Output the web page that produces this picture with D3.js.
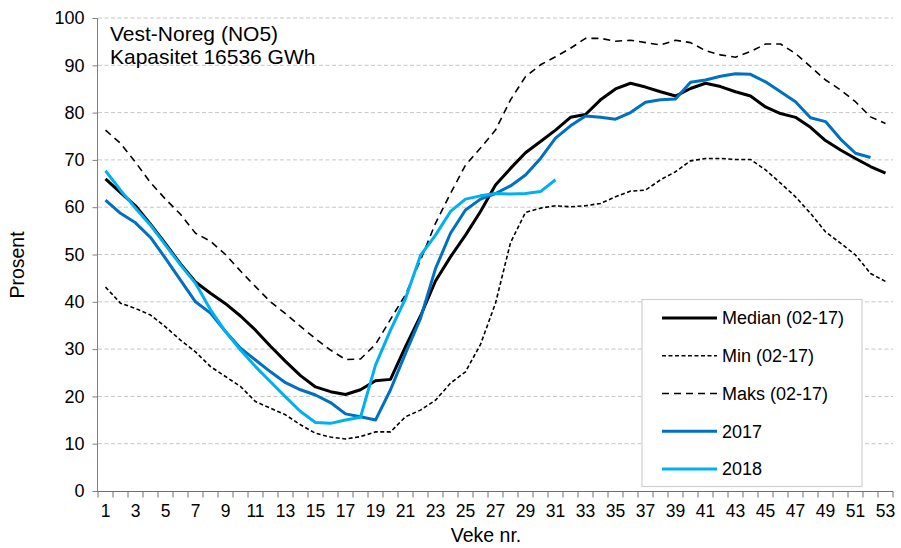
<!DOCTYPE html>
<html>
<head>
<meta charset="utf-8">
<script src="https://cdn.jsdelivr.net/npm/d3@7"></script>
<style>
  html, body { margin: 0; padding: 0; background: #fff; }
  svg { display: block; font-family: "Liberation Sans", Arial, sans-serif; }
</style>
</head>
<body>
<svg id="chart" width="901" height="548"></svg>
<script>
const weeks = d3.range(1, 54);
const yTicks = [0, 10, 20, 30, 40, 50, 60, 70, 80, 90, 100];
const xTickLabels = weeks.filter(w => w % 2 === 1);

const median = [66.0, 63.1, 60.3, 56.4, 52.3, 48.0, 44.2, 41.8, 39.6, 37.0,
  34.0, 30.6, 27.4, 24.4, 22.0, 21.0, 20.4, 21.4, 23.3, 23.6,
  30.5, 37.0, 44.4, 49.5, 54.1, 59.1, 64.7, 68.2, 71.5, 73.9,
  76.3, 79.0, 79.6, 82.7, 85.0, 86.2, 85.4, 84.4, 83.5, 85.1,
  86.2, 85.5, 84.4, 83.5, 81.2, 79.8, 79.0, 76.9, 74.1, 72.1,
  70.3, 68.6, 67.2];
const minV = [43.1, 39.7, 38.6, 37.2, 34.7, 31.9, 29.4, 26.3, 24.2, 22.1,
  18.9, 17.5, 16.1, 14.0, 12.2, 11.4, 11.0, 11.5, 12.5, 12.5,
  15.7, 17.1, 19.2, 22.8, 25.2, 31.0, 39.7, 52.5, 58.9, 59.8,
  60.3, 60.1, 60.3, 60.8, 62.2, 63.4, 63.6, 65.8, 67.5, 69.8,
  70.3, 70.3, 70.1, 70.1, 67.9, 65.1, 62.2, 58.7, 54.8, 52.4,
  49.9, 46.0, 44.3];
const maxV = [76.3, 73.5, 69.5, 65.2, 61.7, 58.5, 54.5, 52.8, 50.0, 46.5,
  43.2, 40.0, 37.5, 34.8, 32.2, 29.8, 27.8, 27.9, 31.0, 36.3,
  41.5, 48.8, 56.6, 62.9, 68.9, 72.5, 76.3, 82.7, 87.6, 90.1,
  91.8, 93.6, 95.7, 95.7, 95.1, 95.3, 94.8, 94.3, 95.3, 94.8,
  93.1, 92.2, 91.7, 92.9, 94.5, 94.5, 92.5, 89.7, 86.9, 84.8,
  82.3, 79.1, 77.7];
const y2017 = [61.5, 58.7, 56.7, 53.6, 49.2, 44.6, 40.0, 37.6, 33.7, 30.2,
  27.7, 25.2, 22.9, 21.4, 20.3, 18.7, 16.3, 15.7, 15.0, 21.4,
  29.1, 36.5, 47.0, 54.5, 59.4, 61.7, 62.9, 64.5, 66.8, 70.3,
  74.6, 77.2, 79.3, 79.0, 78.6, 80.0, 82.2, 82.7, 82.9, 86.4,
  86.9, 87.7, 88.2, 88.1, 86.5, 84.4, 82.3, 78.9, 78.1, 74.4,
  71.4, 70.5];
const y2018 = [67.7, 63.6, 59.8, 56.2, 52.0, 47.8, 43.9, 38.3, 33.7, 29.8,
  26.3, 23.1, 19.9, 16.8, 14.5, 14.3, 15.0, 15.6, 26.6, 34.0,
  40.7, 49.8, 54.1, 59.1, 61.7, 62.4, 62.9, 62.8, 62.9, 63.3,
  65.8];

const seriesNames = ["Median (02-17)", "Min (02-17)", "Maks (02-17)", "2017", "2018"];
const titleLines = ["Vest-Noreg (NO5)", "Kapasitet 16536 GWh"];

const series = [
  { name: seriesNames[0], values: median, color: "#000000", width: 3, dash: null },
  { name: seriesNames[1], values: minV, color: "#000000", width: 1.6, dash: "4,2.5" },
  { name: seriesNames[2], values: maxV, color: "#000000", width: 1.6, dash: "7,5" },
  { name: seriesNames[3], values: y2017, color: "#0070C0", width: 3, dash: null },
  { name: seriesNames[4], values: y2018, color: "#00B0F0", width: 3, dash: null }
];

const svg = d3.select("#chart");
const L = 98, R = 893, T = 18, B = 491;

const x = d3.scaleBand().domain(weeks).range([L, R]).padding(0);
const y = d3.scaleLinear().domain([0, 100]).range([B, T]);
const cx = w => x(w) + x.bandwidth() / 2;

// gridlines
svg.append("g").selectAll("line").data(yTicks.filter(v => v > 0)).join("line")
  .attr("x1", L).attr("x2", R)
  .attr("y1", d => y(d)).attr("y2", d => y(d))
  .attr("stroke", "#c6c6c6").attr("stroke-width", 1)
  .attr("stroke-dasharray", "4,2.5");

// lines
const line = d3.line().x((d, i) => cx(weeks[i])).y(d => y(d));
series.forEach(s => {
  svg.append("path")
    .attr("d", line(s.values))
    .attr("fill", "none")
    .attr("stroke", s.color)
    .attr("stroke-width", s.width)
    .attr("stroke-linejoin", "round")
    .attr("stroke-dasharray", s.dash);
});

// y axis
const yAxis = svg.append("g").attr("transform", `translate(${L - 0.5},0)`)
  .call(d3.axisLeft(y).tickValues(yTicks).tickSize(5).tickPadding(8));
yAxis.select(".domain").attr("stroke", "#808080").attr("d", `M0,${T}V${B}`);
yAxis.selectAll(".tick line").attr("stroke", "#808080");
yAxis.selectAll(".tick text").attr("font-size", "18px").attr("fill", "#000")
  .attr("font-family", "Liberation Sans, Arial, sans-serif");

// x axis
const xAxis = svg.append("g").attr("transform", `translate(0,${B + 0.5})`)
  .call(d3.axisBottom(x).tickValues(xTickLabels).tickSize(0).tickPadding(13));
xAxis.select(".domain").attr("stroke", "#707070").attr("d", `M${L - 1},0H${R}`);
xAxis.selectAll(".tick text").attr("font-size", "17.5px").attr("fill", "#000")
  .attr("font-family", "Liberation Sans, Arial, sans-serif");
// tick marks at band boundaries
const bounds = weeks.map(w => x(w)).concat([x(53) + x.bandwidth()]);
xAxis.append("g").selectAll("line").data(bounds).join("line")
  .attr("x1", d => d).attr("x2", d => d)
  .attr("y1", 0).attr("y2", 6)
  .attr("stroke", "#707070");

// axis titles
svg.append("text").attr("x", 486).attr("y", 542)
  .attr("text-anchor", "middle").attr("font-size", "19.5px").text("Veke nr.");
svg.append("text").attr("transform", "translate(24,265) rotate(-90)")
  .attr("text-anchor", "middle").attr("font-size", "19.5px").text("Prosent");

// title
svg.append("text").attr("x", 110).attr("y", 41).attr("font-size", "21px").text(titleLines[0]);
svg.append("text").attr("x", 110).attr("y", 64).attr("font-size", "21px").text(titleLines[1]);

// legend
const lg = svg.append("g");
lg.append("rect").attr("x", 642).attr("y", 299.5).attr("width", 220).attr("height", 187)
  .attr("fill", "#fff").attr("stroke", "#d0d0d0").attr("stroke-width", 1.2);
const legY = d3.scalePoint().domain(seriesNames).range([318, 469]);
series.forEach(s => {
  const yy = legY(s.name);
  lg.append("line").attr("x1", 662).attr("x2", 717).attr("y1", yy).attr("y2", yy)
    .attr("stroke", s.color).attr("stroke-width", s.width)
    .attr("stroke-dasharray", s.dash);
  lg.append("text").attr("x", 722).attr("y", yy).attr("dy", "0.36em")
    .attr("font-size", "18px").text(s.name);
});
</script>
</body>
</html>
